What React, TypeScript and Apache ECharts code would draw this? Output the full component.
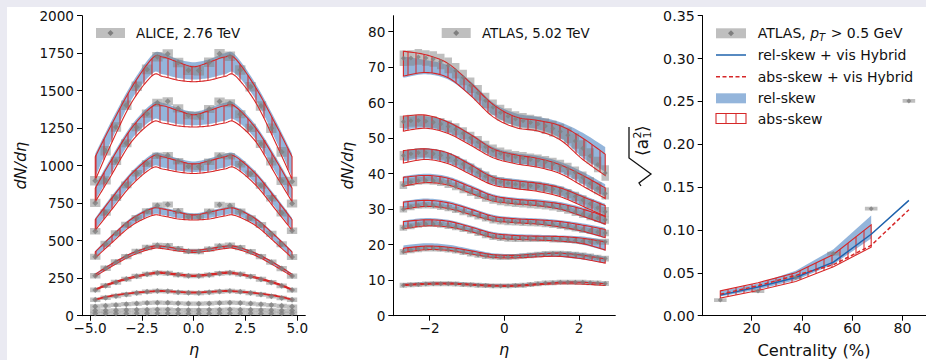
import React, { useEffect, useRef } from "react";
import * as echarts from "echarts";

// ---------------- ALICE, 2.76 TeV (dN/deta vs eta) ----------------
const aliceEta = [-4.75, -4.25, -3.75, -3.25, -2.75, -2.25, -1.75, -1.25, -0.75, -0.25, 0.25, 0.75, 1.25, 1.75, 2.25, 2.75, 3.25, 3.75, 4.25, 4.75];
const alice_0_5 = [900, 1100, 1258, 1403, 1530, 1642, 1726, 1744, 1688, 1636, 1634, 1690, 1746, 1730, 1638, 1526, 1398, 1250, 1092, 895];
const alice_5_10 = [752, 902, 1032, 1150, 1257, 1347, 1420, 1430, 1382, 1336, 1333, 1378, 1428, 1416, 1343, 1252, 1145, 1028, 898, 748];
const alice_10_20 = [563, 688, 787, 872, 950, 1014, 1066, 1070, 1030, 996, 994, 1026, 1067, 1063, 1010, 946, 868, 783, 684, 566];
const alice_20_30 = [393, 480, 550, 607, 652, 697, 735, 742, 698, 661, 659, 695, 740, 733, 694, 650, 604, 547, 476, 392];
const alice_30_40 = [266, 316, 358, 394, 428, 455, 469, 466, 446, 429, 428, 444, 464, 470, 454, 427, 394, 357, 314, 264];
const alice_40_50 = [172, 200, 223, 244, 263, 277, 285, 283, 273, 266, 265, 272, 282, 286, 277, 262, 243, 222, 199, 171];
const alice_50_60 = [107, 119, 131, 142, 152, 159, 164, 163, 157, 153, 152, 156, 162, 165, 159, 151, 141, 130, 118, 106];
const alice_60_70 = [62, 67, 72, 77, 81, 85, 87, 86, 83, 81, 80, 82, 85, 87, 85, 81, 76, 71, 66, 61];
const alice_70_80 = [35, 35, 36, 38, 39, 40, 41, 41, 39, 38, 38, 39, 40, 41, 40, 39, 38, 36, 35, 34];
const alice_80_90 = [15, 15, 15, 15, 16, 16, 16, 16, 15, 15, 15, 15, 16, 16, 16, 16, 15, 15, 15, 15];
const aliceSys = [32, 27, 22, 20, 18, 16, 15, 14, 13, 12];

// model bands (ALICE)
const aliceModelEta = [-4.75, -4, -3, -2, -1.5, -0.75, 0, 0.75, 1.5, 2, 3, 4, 4.75];
const aliceAbsLo_0_5 = [905, 1140, 1420, 1600, 1595, 1570, 1560, 1570, 1595, 1600, 1420, 1140, 910];
const aliceAbsHi_0_5 = [1060, 1265, 1520, 1715, 1725, 1690, 1660, 1690, 1725, 1715, 1520, 1265, 1060];
const aliceRelLo_0_5 = [925, 1160, 1440, 1615, 1610, 1585, 1575, 1585, 1610, 1615, 1440, 1160, 925];
const aliceRelHi_0_5 = [1080, 1290, 1545, 1740, 1750, 1710, 1690, 1710, 1750, 1740, 1545, 1290, 1080];
const aliceAbsLo_5_10 = [760, 930, 1160, 1290, 1285, 1265, 1258, 1265, 1285, 1290, 1160, 930, 760];
const aliceAbsHi_5_10 = [850, 1030, 1250, 1395, 1400, 1368, 1340, 1368, 1400, 1395, 1250, 1030, 850];
const aliceRelLo_5_10 = [770, 945, 1175, 1305, 1300, 1278, 1270, 1278, 1300, 1305, 1175, 945, 770];
const aliceRelHi_5_10 = [868, 1050, 1270, 1415, 1420, 1385, 1360, 1385, 1420, 1415, 1270, 1050, 868];
const aliceAbsLo_10_20 = [570, 700, 870, 985, 978, 958, 948, 958, 978, 985, 870, 700, 570];
const aliceAbsHi_10_20 = [640, 775, 945, 1062, 1060, 1032, 1012, 1032, 1060, 1062, 945, 775, 640];
const aliceRelLo_10_20 = [578, 710, 880, 995, 988, 967, 958, 967, 988, 995, 880, 710, 578];
const aliceRelHi_10_20 = [652, 790, 960, 1078, 1078, 1048, 1028, 1048, 1078, 1078, 960, 790, 652];
const aliceAbsLo_20_30 = [385, 480, 600, 668, 665, 645, 638, 645, 665, 668, 600, 480, 385];
const aliceAbsHi_20_30 = [425, 525, 645, 715, 712, 690, 672, 690, 712, 715, 645, 525, 425];
const aliceRelLo_20_30 = [390, 486, 606, 675, 672, 652, 644, 652, 672, 675, 606, 486, 390];
const aliceRelHi_20_30 = [432, 533, 654, 725, 722, 700, 682, 700, 722, 725, 654, 533, 432];
const aliceAbsLo_30_40 = [262, 325, 400, 447, 447, 432, 422, 432, 447, 447, 400, 325, 262];
const aliceAbsHi_30_40 = [276, 342, 416, 462, 463, 447, 436, 447, 463, 462, 416, 342, 276];
const aliceRelLo_30_40 = [265, 328, 403, 450, 450, 435, 425, 435, 450, 450, 403, 328, 265];
const aliceRelHi_30_40 = [281, 347, 421, 467, 468, 452, 441, 452, 468, 467, 421, 347, 281];
const aliceAbsLo_40_50 = [170, 210, 250, 278, 282, 270, 262, 270, 282, 278, 250, 210, 170];
const aliceAbsHi_40_50 = [178, 218, 258, 286, 290, 278, 270, 278, 290, 286, 258, 218, 178];
const aliceAbsLo_50_60 = [105, 129, 148, 160, 162, 156, 152, 156, 162, 160, 148, 129, 105];
const aliceAbsHi_50_60 = [110, 134, 153, 165, 167, 161, 157, 161, 167, 165, 153, 134, 110];

// ---------------- ATLAS, 5.02 TeV ----------------
const atlasEta = [-2.7, -2.5, -2.3, -2.1, -1.9, -1.7, -1.5, -1.3, -1.1, -0.9, -0.7, -0.5, -0.3, -0.1, 0.1, 0.3, 0.5, 0.7, 0.9, 1.1, 1.3, 1.5, 1.7, 1.9, 2.1, 2.3, 2.5, 2.7];
const atlas_0_1 = [72.5, 72.6, 72.9, 72.6, 72.3, 71.6, 70.5, 69.0, 67.1, 64.9, 62.8, 60.6, 58.7, 57.2, 56.2, 55.4, 54.9, 54.4, 54.0, 53.4, 52.7, 51.9, 50.8, 49.2, 47.2, 45.0, 42.6, 40.2];
const atlas_1_5 = [54.6, 54.9, 55.0, 54.8, 54.5, 54.0, 53.3, 52.5, 51.4, 50.1, 48.9, 47.6, 46.5, 45.7, 45.1, 44.7, 44.4, 44.0, 43.7, 43.3, 42.8, 42.2, 41.4, 40.3, 38.9, 37.3, 35.9, 34.4];
const atlas_5_10 = [45.1, 45.6, 45.9, 45.9, 45.6, 45.2, 44.5, 43.7, 42.7, 41.6, 40.4, 39.3, 38.3, 37.7, 37.3, 37.0, 36.8, 36.6, 36.4, 36.0, 35.6, 35.1, 34.4, 33.6, 32.6, 31.5, 30.4, 29.3];
const atlas_10_20 = [36.8, 37.6, 38.0, 38.1, 38.0, 37.6, 37.1, 36.4, 35.6, 34.8, 34.0, 33.2, 32.6, 32.2, 31.9, 31.7, 31.6, 31.4, 31.2, 31.0, 30.7, 30.3, 29.8, 29.2, 28.6, 28.0, 27.5, 27.0];
const atlas_20_30 = [30.0, 30.6, 31.0, 31.1, 31.0, 30.7, 30.3, 29.8, 29.2, 28.6, 28.0, 27.4, 26.9, 26.6, 26.4, 26.3, 26.2, 26.1, 26.0, 25.8, 25.6, 25.3, 25.0, 24.6, 24.2, 23.9, 23.6, 23.3];
const atlas_30_40 = [24.8, 25.2, 25.6, 25.8, 25.8, 25.6, 25.3, 24.9, 24.4, 23.9, 23.3, 22.7, 22.2, 21.9, 21.7, 21.6, 21.6, 21.6, 21.6, 21.6, 21.5, 21.4, 21.3, 21.2, 21.0, 20.9, 20.8, 20.8];
const atlas_40_60 = [18.0, 18.4, 18.7, 18.9, 18.9, 18.8, 18.6, 18.3, 17.9, 17.5, 17.1, 16.8, 16.6, 16.5, 16.5, 16.6, 16.8, 17.0, 17.2, 17.4, 17.5, 17.5, 17.4, 17.2, 17.0, 16.7, 16.4, 16.1];
const atlas_60_90 = [8.6, 8.7, 8.8, 8.9, 9.0, 9.0, 9.0, 8.9, 8.8, 8.7, 8.6, 8.5, 8.4, 8.4, 8.4, 8.5, 8.6, 8.8, 9.0, 9.2, 9.3, 9.4, 9.4, 9.4, 9.4, 9.3, 9.2, 9.1];
const atlasSys = [2.2, 1.7, 1.3, 1.1, 0.9, 0.85, 0.8, 0.7];

const atlasModelEta = [-2.7, -2.1, -1.5, -0.9, -0.3, 0.3, 0.9, 1.5, 2.1, 2.7];
const atlasAbsLo_0_1 = [67.5, 68.5, 67.0, 62.0, 56.0, 53.0, 52.0, 49.5, 44.0, 39.5];
const atlasAbsHi_0_1 = [74.5, 73.5, 71.0, 65.5, 59.5, 56.0, 55.0, 53.5, 50.0, 45.5];
const atlasRelLo_0_1 = [67.0, 68.0, 66.5, 62.0, 56.5, 53.5, 52.5, 50.0, 44.5, 40.5];
const atlasRelHi_0_1 = [73.0, 72.0, 70.5, 66.0, 60.0, 57.0, 56.0, 54.5, 51.5, 47.5];
const atlasAbsLo_1_5 = [52.0, 52.8, 51.3, 48.0, 44.5, 42.8, 41.8, 40.0, 36.5, 33.0];
const atlasAbsHi_1_5 = [56.2, 56.5, 54.5, 51.0, 47.0, 45.3, 44.3, 42.5, 39.5, 36.0];
const atlasRelLo_1_5 = [52.3, 53.0, 51.5, 48.3, 44.8, 43.0, 42.0, 40.3, 37.0, 33.5];
const atlasRelHi_1_5 = [56.0, 56.2, 54.8, 51.3, 47.5, 45.8, 45.0, 43.3, 40.5, 37.0];
const atlasAbsLo_5_10 = [43.0, 44.0, 42.8, 39.8, 36.8, 35.8, 35.0, 33.5, 30.8, 28.0];
const atlasAbsHi_5_10 = [46.5, 47.0, 45.8, 42.5, 39.0, 38.0, 37.3, 36.0, 33.5, 31.0];
const atlasRelLo_5_10 = [43.5, 44.3, 43.0, 40.0, 37.0, 36.0, 35.3, 33.8, 31.0, 28.5];
const atlasRelHi_5_10 = [46.5, 47.2, 46.0, 43.0, 39.5, 38.5, 37.8, 36.5, 34.0, 31.5];
const atlasAbsLo_10_20 = [36.5, 37.5, 36.8, 34.5, 32.3, 31.5, 31.0, 30.0, 28.0, 25.8];
const atlasAbsHi_10_20 = [39.0, 39.5, 38.7, 36.3, 33.8, 32.8, 32.3, 31.5, 30.0, 28.0];
const atlasRelLo_10_20 = [36.8, 37.8, 37.0, 34.6, 32.4, 31.5, 30.8, 29.8, 27.8, 25.5];
const atlasRelHi_10_20 = [39.3, 40.0, 39.2, 36.8, 34.2, 33.2, 32.8, 32.0, 30.5, 28.5];
const atlasAbsLo_20_30 = [30.0, 30.8, 30.2, 28.5, 26.8, 26.2, 25.8, 25.0, 23.8, 22.0];
const atlasAbsHi_20_30 = [32.0, 32.5, 31.8, 30.0, 28.0, 27.3, 27.0, 26.5, 25.5, 24.3];
const atlasRelLo_20_30 = [30.2, 31.0, 30.3, 28.6, 26.8, 26.2, 25.7, 24.8, 23.5, 21.8];
const atlasRelHi_20_30 = [32.3, 33.0, 32.3, 30.4, 28.4, 27.7, 27.4, 26.9, 26.0, 24.8];
const atlasAbsLo_30_40 = [24.5, 25.3, 25.0, 23.7, 22.0, 21.5, 21.3, 21.0, 20.3, 18.5];
const atlasAbsHi_30_40 = [26.5, 27.0, 26.6, 25.0, 23.2, 22.6, 22.4, 22.3, 21.8, 20.8];
const atlasRelLo_30_40 = [24.8, 25.5, 25.1, 23.7, 22.0, 21.4, 21.2, 20.8, 20.0, 18.3];
const atlasRelHi_30_40 = [26.8, 27.5, 27.0, 25.4, 23.6, 23.0, 22.8, 22.6, 22.3, 21.3];
const atlasAbsLo_40_60 = [17.8, 18.6, 18.4, 17.4, 16.4, 16.3, 16.6, 16.7, 16.0, 14.8];
const atlasAbsHi_40_60 = [19.0, 19.6, 19.3, 18.3, 17.2, 17.0, 17.4, 17.6, 17.0, 16.0];
const atlasRelLo_40_60 = [18.0, 18.8, 18.5, 17.4, 16.4, 16.2, 16.5, 16.5, 15.8, 14.8];
const atlasRelHi_40_60 = [19.8, 20.4, 20.0, 18.8, 17.6, 17.4, 17.8, 18.0, 17.6, 16.6];
const atlasAbsLo_60_90 = [8.5, 8.8, 8.9, 8.6, 8.3, 8.3, 8.7, 9.0, 8.9, 8.5];
const atlasAbsHi_60_90 = [8.8, 9.1, 9.2, 8.9, 8.6, 8.6, 9.0, 9.4, 9.4, 9.0];
const atlasRelLo_60_90 = [8.6, 8.9, 9.0, 8.7, 8.4, 8.4, 8.8, 9.1, 9.1, 8.8];
const atlasRelHi_60_90 = [9.1, 9.4, 9.5, 9.2, 8.9, 8.9, 9.3, 9.7, 9.7, 9.4];

// ---------------- sqrt(<a1^2>) vs centrality ----------------
const centAtlas = [7.5, 22.5, 37.5, 52.5, 67.5, 82.5];
const a1Atlas = [0.0183, 0.0287, 0.0446, 0.0725, 0.1249, 0.2505];
const centModel = [7.5, 22.5, 37.5, 52.5, 67.5, 82.5];
const a1RelHybrid = [0.024, 0.0335, 0.0445, 0.0625, 0.095, 0.1345];
const a1AbsHybrid = [0.025, 0.035, 0.047, 0.0595, 0.082, 0.1237];
const centBand = [7.5, 22.5, 37.5, 52.5, 67.5];
const a1RelLo = [0.0225, 0.0305, 0.0415, 0.06, 0.09];
const a1RelHi = [0.0285, 0.0375, 0.0525, 0.0775, 0.117];
const a1AbsLo = [0.0205, 0.0295, 0.04, 0.057, 0.08];
const a1AbsHi = [0.029, 0.0385, 0.05, 0.0715, 0.106];

// tick values
const aliceXTicks = [-5, -2.5, 0, 2.5, 5];
const aliceYTicks = [0, 250, 500, 750, 1000, 1250, 1500, 1750, 2000];
const atlasXTicks = [-2, 0, 2];
const atlasYTicks = [0, 10, 20, 30, 40, 50, 60, 70, 80];
const centXTicks = [20, 40, 60, 80];
const a1YTicks = [0, 0.05, 0.1, 0.15, 0.2, 0.25, 0.3, 0.35];

const FONT = "DejaVu Sans";
const TXT = "#111111";
const RED = "#d62728";
const BLUE_LINE = "#1f63ad";
const BLUE_FILL = "rgba(60,120,190,0.55)";
const GREY_BOX = "rgba(128,128,128,0.5)";
const MARK = "#7f7f7f";
const HATCH_STEP = 8;

function textW(s: string, font: string) {
  const ctx = document.createElement("canvas").getContext("2d")!;
  ctx.font = font;
  return ctx.measureText(s).width;
}

// Catmull-Rom sampling of already-projected pixel points (drawing only)
function spline(p: number[][]) {
  const out: number[][] = [];
  const n = p.length;
  for (let i = 0; i < n - 1; i++) {
    const p0 = p[Math.max(i - 1, 0)], p1 = p[i], p2 = p[i + 1], p3 = p[Math.min(i + 2, n - 1)];
    for (let s = 0; s < 10; s++) {
      const t = s / 10, t2 = t * t, t3 = t2 * t;
      const h = (a: number, b: number, c: number, d: number) =>
        0.5 * (2 * b + (-a + c) * t + (2 * a - 5 * b + 4 * c - d) * t2 + (-a + 3 * b - 3 * c + d) * t3);
      out.push([h(p0[0], p1[0], p2[0], p3[0]), h(p0[1], p1[1], p2[1], p3[1])]);
    }
  }
  out.push(p[n - 1]);
  return out;
}
function yAt(pl: number[][], x: number) {
  for (let i = 0; i < pl.length - 1; i++) {
    const a = pl[i], b = pl[i + 1];
    if ((x >= a[0] && x <= b[0]) || (x <= a[0] && x >= b[0])) {
      const d = b[0] - a[0];
      return d === 0 ? a[1] : a[1] + ((x - a[0]) / d) * (b[1] - a[1]);
    }
  }
  return null;
}

const minusFmt = (d: number) => (v: number) => (v < 0 ? "\u2212" + Math.abs(v).toFixed(d) : v.toFixed(d));

function xAxis(grid: number, min: number, max: number, ticks: number[], fmt: any, fs: number) {
  return {
    type: "value", gridIndex: grid, min, max,
    axisLine: { show: true, onZero: false, lineStyle: { color: "#000", width: 1 } },
    axisTick: { show: true, length: 5, customValues: ticks, lineStyle: { color: "#000", width: 1 } },
    axisLabel: { show: true, customValues: ticks, formatter: fmt, color: TXT, fontSize: fs, fontFamily: FONT, margin: 5 },
    splitLine: { show: false },
  };
}
function yAxis(grid: number, min: number, max: number, ticks: number[], fmt: any, fs: number) {
  return {
    type: "value", gridIndex: grid, min, max,
    axisLine: { show: true, onZero: false, lineStyle: { color: "#000", width: 1 } },
    axisTick: { show: true, length: 5, customValues: ticks, lineStyle: { color: "#000", width: 1 } },
    axisLabel: { show: true, customValues: ticks, formatter: fmt, color: TXT, fontSize: fs, fontFamily: FONT, margin: 8 },
    splitLine: { show: false },
  };
}

function hatchLines(U: number[][], D: number[][], x0: number, x1: number) {
  const out: any[] = [];
  const start = Math.ceil(x0 / HATCH_STEP) * HATCH_STEP;
  for (let x = start; x <= x1; x += HATCH_STEP) {
    const yu = yAt(U, x), yd = yAt(D, x);
    if (yu == null || yd == null) continue;
    out.push({ type: "line", shape: { x1: x, y1: yu, x2: x, y2: yd }, style: { stroke: RED, lineWidth: 1 } });
  }
  return out;
}

function buildOption() {
  const series: any[] = [];
  const band = (grid: number, xs: number[], lo: number[], hi: number[], kind: "red" | "blue", smooth: boolean) => {
    const isRed = kind === "red";
    series.push({
      type: "custom", xAxisIndex: grid, yAxisIndex: grid, z: isRed ? 3 : 1, silent: true, clip: true,
      data: xs.map((x, i) => [x, lo[i], hi[i]]), encode: { x: 0, y: [1, 2] },
      renderItem: (params: any, api: any) => {
        if (params.dataIndex !== 0) return null;
        const up = xs.map((x, i) => api.coord([x, hi[i]]));
        const dn = xs.map((x, i) => api.coord([x, lo[i]]));
        const U = smooth ? spline(up) : up;
        const D = smooth ? spline(dn) : dn;
        const poly = U.concat(D.slice().reverse());
        const children: any[] = [];
        if (!isRed) {
          children.push({ type: "polygon", shape: { points: poly }, style: { fill: BLUE_FILL } });
        } else {
          hatchLines(U, D, U[0][0], U[U.length - 1][0]).forEach((l) => children.push(l));
          children.push({ type: "polygon", shape: { points: poly }, style: { fill: "none", stroke: RED, lineWidth: 1.1 } });
        }
        return { type: "group", children };
      },
    });
  };
  const boxes = (grid: number, pts: number[][]) => {
    series.push({
      type: "custom", xAxisIndex: grid, yAxisIndex: grid, z: 2, silent: true, clip: true,
      data: pts, encode: { x: 0, y: 1 },
      renderItem: (params: any, api: any) => {
        const x = api.value(0), y = api.value(1), e = api.value(2), w = api.value(3);
        const p1 = api.coord([x - w / 2, y + e]);
        const p2 = api.coord([x + w / 2, y - e]);
        return { type: "rect", shape: { x: p1[0], y: p1[1], width: p2[0] - p1[0], height: p2[1] - p1[1] }, style: { fill: GREY_BOX } };
      },
    });
  };
  const markers = (grid: number, pts: number[][], size: number) => {
    series.push({
      type: "scatter", xAxisIndex: grid, yAxisIndex: grid, z: 5, silent: true,
      symbol: "diamond", symbolSize: size, itemStyle: { color: MARK }, data: pts,
    });
  };

  // ---- panel 1: ALICE
  const aliceCurves = [alice_0_5, alice_5_10, alice_10_20, alice_20_30, alice_30_40, alice_40_50, alice_50_60, alice_60_70, alice_70_80, alice_80_90];
  const aliceRel = [
    [aliceRelLo_0_5, aliceRelHi_0_5], [aliceRelLo_5_10, aliceRelHi_5_10], [aliceRelLo_10_20, aliceRelHi_10_20],
    [aliceRelLo_20_30, aliceRelHi_20_30], [aliceRelLo_30_40, aliceRelHi_30_40],
  ];
  const aliceAbs = [
    [aliceAbsLo_0_5, aliceAbsHi_0_5], [aliceAbsLo_5_10, aliceAbsHi_5_10], [aliceAbsLo_10_20, aliceAbsHi_10_20],
    [aliceAbsLo_20_30, aliceAbsHi_20_30], [aliceAbsLo_30_40, aliceAbsHi_30_40], [aliceAbsLo_40_50, aliceAbsHi_40_50],
    [aliceAbsLo_50_60, aliceAbsHi_50_60],
  ];
  aliceRel.forEach(([lo, hi]) => band(0, aliceModelEta, lo, hi, "blue", true));
  const aBox: number[][] = [];
  const aPts: number[][] = [];
  aliceCurves.forEach((c, k) => c.forEach((v, i) => { aBox.push([aliceEta[i], v, aliceSys[k], 0.5]); aPts.push([aliceEta[i], v]); }));
  boxes(0, aBox);
  aliceAbs.forEach(([lo, hi]) => band(0, aliceModelEta, lo, hi, "red", true));
  markers(0, aPts, 6);

  // ---- panel 2: ATLAS
  const atlasCurves = [atlas_0_1, atlas_1_5, atlas_5_10, atlas_10_20, atlas_20_30, atlas_30_40, atlas_40_60, atlas_60_90];
  const atlasRel = [
    [atlasRelLo_0_1, atlasRelHi_0_1], [atlasRelLo_1_5, atlasRelHi_1_5], [atlasRelLo_5_10, atlasRelHi_5_10],
    [atlasRelLo_10_20, atlasRelHi_10_20], [atlasRelLo_20_30, atlasRelHi_20_30], [atlasRelLo_30_40, atlasRelHi_30_40],
    [atlasRelLo_40_60, atlasRelHi_40_60], [atlasRelLo_60_90, atlasRelHi_60_90],
  ];
  const atlasAbs = [
    [atlasAbsLo_0_1, atlasAbsHi_0_1], [atlasAbsLo_1_5, atlasAbsHi_1_5], [atlasAbsLo_5_10, atlasAbsHi_5_10],
    [atlasAbsLo_10_20, atlasAbsHi_10_20], [atlasAbsLo_20_30, atlasAbsHi_20_30], [atlasAbsLo_30_40, atlasAbsHi_30_40],
    [atlasAbsLo_40_60, atlasAbsHi_40_60], [atlasAbsLo_60_90, atlasAbsHi_60_90],
  ];
  atlasRel.forEach(([lo, hi]) => band(1, atlasModelEta, lo, hi, "blue", true));
  const tBox: number[][] = [];
  const tPts: number[][] = [];
  atlasCurves.forEach((c, k) => c.forEach((v, i) => { tBox.push([atlasEta[i], v, atlasSys[k], 0.2]); tPts.push([atlasEta[i], v]); }));
  boxes(1, tBox);
  atlasAbs.forEach(([lo, hi]) => band(1, atlasModelEta, lo, hi, "red", true));
  markers(1, tPts, 5);

  // ---- panel 3: a1
  band(2, centBand, a1RelLo, a1RelHi, "blue", false);
  boxes(2, centAtlas.map((c, i) => [c, a1Atlas[i], 0.0022, 5]));
  band(2, centBand, a1AbsLo, a1AbsHi, "red", false);
  series.push({
    type: "line", xAxisIndex: 2, yAxisIndex: 2, symbol: "none", silent: true, z: 4,
    data: centModel.map((c, i) => [c, a1RelHybrid[i]]), lineStyle: { color: BLUE_LINE, width: 1.5 },
  });
  series.push({
    type: "line", xAxisIndex: 2, yAxisIndex: 2, symbol: "none", silent: true, z: 4,
    data: centModel.map((c, i) => [c, a1AbsHybrid[i]]), lineStyle: { color: RED, width: 1.5, type: [4, 2.5] },
  });
  markers(2, centAtlas.map((c, i) => [c, a1Atlas[i]]), 5);

  // ---- graphics: background, legends, axis titles
  const g: any[] = [];
  g.push({ type: "rect", z: -100, silent: true, shape: { x: 7, y: 7, width: 930, height: 360 }, style: { fill: "#ffffff" } });
  const diamond = (cx: number, cy: number) => ({
    type: "polygon", z: 50, shape: { points: [[cx, cy - 3], [cx + 3, cy], [cx, cy + 3], [cx - 3, cy]] }, style: { fill: MARK },
  });
  const txt = (x: number, y: number, text: string, fs: number, extra: any = {}) => ({
    type: "text", z: 50, x, y, style: { text, fill: TXT, fontSize: fs, fontFamily: FONT, align: "left", verticalAlign: "middle", ...extra },
  });
  // panel 1 legend
  g.push({ type: "rect", z: 50, shape: { x: 96, y: 28, width: 29, height: 10 }, style: { fill: "#bfbfbf" } });
  g.push(diamond(110.5, 33));
  g.push(txt(136, 33, "ALICE, 2.76 TeV", 13.4));
  // panel 2 legend
  g.push({ type: "rect", z: 50, shape: { x: 441.7, y: 28, width: 29, height: 10 }, style: { fill: "#bfbfbf" } });
  g.push(diamond(456.2, 33));
  g.push(txt(482, 33, "ATLAS, 5.02 TeV", 13.4));
  // panel 3 legend
  const L3 = 14;
  g.push({ type: "rect", z: 50, shape: { x: 716, y: 28.3, width: 30, height: 10 }, style: { fill: "#bfbfbf" } });
  g.push(diamond(731, 33.3));
  const x0 = 757.7;
  const w1 = textW("ATLAS, ", `${L3}px '${FONT}'`);
  const wp = textW("p", `italic ${L3}px '${FONT}'`);
  const wT = textW("T", `italic 10px '${FONT}'`);
  g.push(txt(x0, 33, "ATLAS, ", L3));
  g.push(txt(x0 + w1, 33, "p", L3, { fontStyle: "italic" }));
  g.push(txt(x0 + w1 + wp, 37, "T", 10, { fontStyle: "italic" }));
  g.push(txt(x0 + w1 + wp + wT + 1, 33, " > 0.5 GeV", L3));
  g.push({ type: "line", z: 50, shape: { x1: 716, y1: 55, x2: 746, y2: 55 }, style: { stroke: BLUE_LINE, lineWidth: 1.5 } });
  g.push(txt(x0, 55, "rel-skew + vis Hybrid", L3));
  g.push({ type: "line", z: 50, shape: { x1: 716, y1: 76.7, x2: 746, y2: 76.7 }, style: { stroke: RED, lineWidth: 1.5, lineDash: [4, 2.5] } });
  g.push(txt(x0, 76.7, "abs-skew + vis Hybrid", L3));
  g.push({ type: "rect", z: 50, shape: { x: 716, y: 93.3, width: 30, height: 10 }, style: { fill: BLUE_FILL } });
  g.push(txt(x0, 98.3, "rel-skew", L3));
  [726, 736].forEach((hx) => g.push({ type: "line", z: 50, shape: { x1: hx, y1: 113.5, x2: hx, y2: 123.5 }, style: { stroke: RED, lineWidth: 1 } }));
  g.push({ type: "rect", z: 50, shape: { x: 716, y: 113.5, width: 30, height: 10 }, style: { fill: "none", stroke: RED, lineWidth: 1.1 } });
  g.push(txt(x0, 118.5, "abs-skew", L3));

  // axis titles
  const ital = { fontStyle: "italic", align: "center" };
  g.push({ type: "text", z: 50, x: 20.5, y: 165.7, rotation: Math.PI / 2, style: { text: "dN/d\u03b7", fill: TXT, fontSize: 16, fontFamily: FONT, fontStyle: "italic", align: "center", verticalAlign: "middle" } });
  g.push({ type: "text", z: 50, x: 347, y: 165.7, rotation: Math.PI / 2, style: { text: "dN/d\u03b7", fill: TXT, fontSize: 16, fontFamily: FONT, fontStyle: "italic", align: "center", verticalAlign: "middle" } });
  g.push(txt(194, 349, "\u03b7", 16, ital));
  g.push(txt(504, 349, "\u03b7", 16, ital));
  g.push(txt(814, 350, "Centrality (%)", 16.3, { align: "center" }));
  // sqrt(<a1^2>) label, rotated
  g.push({
    type: "group", x: 642, y: 157, rotation: Math.PI / 2, z: 50,
    children: [
      { type: "polyline", z: 50, shape: { points: [[-29, -1], [-26, -3], [-17, 9], [-1, -13], [30, -13]] }, style: { stroke: TXT, lineWidth: 1.3, fill: null } },
      { type: "text", z: 50, x: 1, y: 0, style: { text: "\u27e8a", fill: TXT, fontSize: 17, fontFamily: FONT, align: "left", verticalAlign: "middle" } },
      { type: "text", z: 50, x: 18.5, y: -5, style: { text: "2", fill: TXT, fontSize: 11, fontFamily: FONT, align: "left", verticalAlign: "middle" } },
      { type: "text", z: 50, x: 18.5, y: 5, style: { text: "1", fill: TXT, fontSize: 11, fontFamily: FONT, align: "left", verticalAlign: "middle" } },
      { type: "text", z: 50, x: 25, y: 0, style: { text: "\u27e9", fill: TXT, fontSize: 17, fontFamily: FONT, align: "left", verticalAlign: "middle" } },
    ],
  });

  return {
    animation: false,
    backgroundColor: "#eaeaf2",
    grid: [
      { left: 82, top: 15.7, width: 223.3, height: 300 },
      { left: 393.3, top: 15.7, width: 222, height: 300 },
      { left: 702.7, top: 15.7, width: 223.3, height: 300 },
    ],
    xAxis: [
      xAxis(0, -5.39, 5.39, aliceXTicks, minusFmt(1), 13.6),
      xAxis(1, -2.97, 2.97, atlasXTicks, minusFmt(0), 13.6),
      xAxis(2, 0.5, 89.3, centXTicks, (v: number) => String(v), 14.2),
    ],
    yAxis: [
      yAxis(0, 0, 2000, aliceYTicks, (v: number) => String(v), 13.6),
      yAxis(1, 0, 84.5, atlasYTicks, (v: number) => String(v), 13.6),
      yAxis(2, 0, 0.35, a1YTicks, (v: number) => v.toFixed(2), 14.2),
    ],
    series,
    graphic: g,
  };
}

export default function App() {
  const ref = useRef<HTMLDivElement>(null);
  useEffect(() => {
    const chart = echarts.init(ref.current!, null, { renderer: "svg", width: 926, height: 360 });
    chart.setOption(buildOption() as any);
    return () => chart.dispose();
  }, []);
  return <div ref={ref} style={{ position: "fixed", left: 0, top: 0, width: 926, height: 360 }} />;
}
